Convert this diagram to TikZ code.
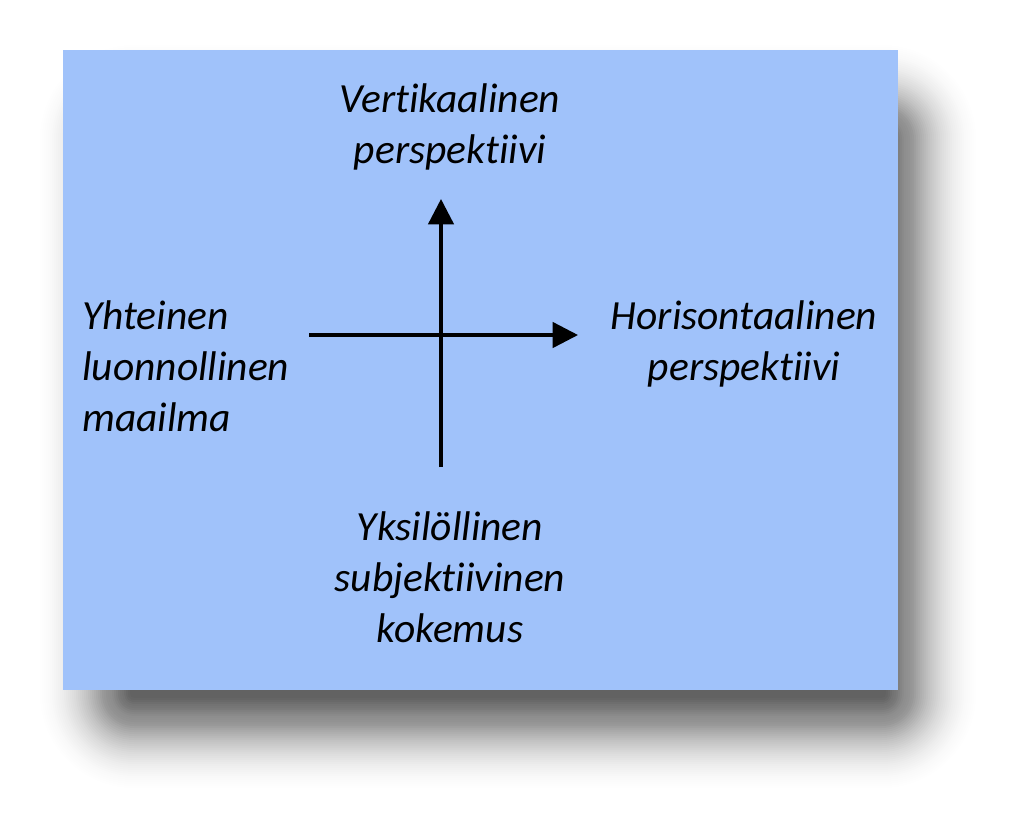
\documentclass[tikz,border=0pt]{standalone}
\usepackage{fontspec}
\setmainfont[Ligatures=NoCommon]{Carlito}
\usetikzlibrary{arrows.meta}
\definecolor{panelblue}{RGB}{160,194,250}
\tikzset{
  lbl/.style={font=\fontsize{29.5}{36.3}\selectfont\itshape, inner sep=0pt, align=center},
  axisline/.style={draw=black, line width=2.4pt, -{Triangle[length=18pt,width=18pt]}}
}
\begin{document}
\begin{tikzpicture}[x=0.025cm,y=-0.025cm]
\useasboundingbox[fill=white] (0,0) rectangle (1024,817);
% soft shadow, built from layers
\foreach \d in {-40,-38,...,50} {
  \pgfmathsetmacro\rad{(\d+44)*0.7113}
  \pgfmathsetmacro\op{0.002+0.03*(50-\d)/90}
  \fill[black, opacity=\op, rounded corners=\rad pt] (90-\d,95-\d) rectangle (926+\d,738+\d);
}
\fill[panelblue] (63,50) rectangle (898,690);
% labels
\node[lbl] (vert) at (450,127) {Vertikaalinen\\perspektiivi};
\node[lbl] (horiz) at (744,344) {Horisontaalinen\\perspektiivi};
\node[lbl, align=left, anchor=west] (yht) at (82,366) {Yhteinen\\luonnollinen\\maailma};
\node[lbl] (yks) at (450,577) {Yksilöllinen\\subjektiivinen\\kokemus};
% axes
\coordinate (xstart) at (309,335);
\coordinate (xend) at (578,335);
\coordinate (ybot) at (441,467);
\coordinate (ytop) at (441,199);
\draw[axisline] (xstart) -- (xend);
\draw[axisline] (ybot) -- (ytop);
\end{tikzpicture}
\end{document}
